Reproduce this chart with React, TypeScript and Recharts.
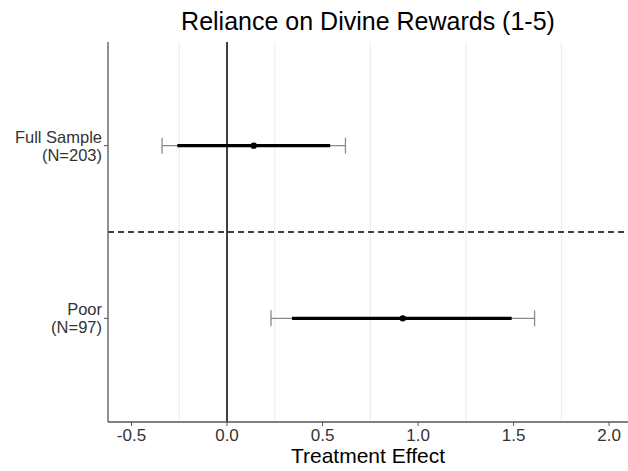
import {
    ScatterChart,
    Scatter,
    XAxis,
    YAxis,
    CartesianGrid,
    ReferenceLine,
    ErrorBar,
} from "recharts";

// rows, top to bottom
const groups = ["Full Sample", "Poor"];
const sampleSizes = [203, 97];
const rowPos = [2, 1];
const estimates = [0.14, 0.92];
const ci90Low = [-0.26, 0.34];
const ci90High = [0.54, 1.49];
const ci95Low = [-0.34, 0.23];
const ci95High = [0.62, 1.61];

const xTicks = [-0.5, 0, 0.5, 1, 1.5, 2];
const minorGrid = [-0.25, 0.25, 0.75, 1.25, 1.75];

const FONT = '"Liberation Sans", Arial, Helvetica, sans-serif';

const data = groups.map((g, i) => ({
    group: g,
    n: sampleSizes[i],
    y: rowPos[i],
    est: estimates[i],
    err90: [estimates[i] - ci90Low[i], ci90High[i] - estimates[i]],
    err95: [estimates[i] - ci95Low[i], ci95High[i] - estimates[i]],
}));

const rowLabel = (y: number) => data.find((d) => d.y === y);

function YTick(props: any) {
    const { x, y, payload } = props;
    const row = rowLabel(payload.value);
    if (!row) return null;
    return (
        <g>
            <text x={x} y={y - 3} textAnchor="end" fontSize={16.5} fill="#333" fontFamily={FONT}>
                {row.group}
            </text>
            <text x={x} y={y + 15} textAnchor="end" fontSize={16.5} fill="#333" fontFamily={FONT}>
                {`(N=${row.n})`}
            </text>
        </g>
    );
}

export default function App() {
    return (
        <div style={{ position: "absolute", left: 0, top: 0, width: 628, height: 471, background: "#fff" }}>
            <div
                style={{
                    position: "absolute",
                    left: 108,
                    width: 520,
                    top: 9,
                    textAlign: "center",
                    fontFamily: FONT,
                    fontSize: 25,
                    lineHeight: "25px",
                    color: "#000",
                }}
            >
                Reliance on Divine Rewards (1-5)
            </div>
            <ScatterChart
                width={628}
                height={471}
                margin={{ top: 42, right: 0, left: 0, bottom: 0 }}
            >
                <CartesianGrid
                    horizontal={false}
                    verticalValues={minorGrid}
                    stroke="#ebebeb"
                    strokeWidth={1}
                />
                <XAxis
                    xAxisId="top"
                    orientation="top"
                    type="number"
                    domain={[-0.623, 2.099]}
                    height={0}
                    tick={false}
                    tickLine={false}
                    axisLine={{ stroke: "#888", strokeWidth: 1.3 }}
                />
                <XAxis
                    dataKey="est"
                    type="number"
                    domain={[-0.623, 2.099]}
                    ticks={xTicks}
                    tickFormatter={(v: number) => v.toFixed(1)}
                    allowDataOverflow
                    height={49}
                    tickSize={4}
                    tickMargin={3}
                    tick={{ fontSize: 17, fill: "#333", fontFamily: FONT }}
                    axisLine={{ stroke: "#555", strokeWidth: 1.3 }}
                    tickLine={{ stroke: "#555" }}
                    label={{
                        value: "Treatment Effect",
                        position: "insideBottom",
                        offset: 8,
                        style: { fontSize: 21, fill: "#000", fontFamily: FONT },
                    }}
                />
                <YAxis
                    dataKey="y"
                    type="number"
                    domain={[0.4, 2.6]}
                    ticks={rowPos}
                    width={108}
                    tickSize={4}
                    tickMargin={2}
                    tick={<YTick />}
                    axisLine={{ stroke: "#555", strokeWidth: 1.3 }}
                    tickLine={{ stroke: "#555" }}
                />
                <ReferenceLine x={0} stroke="#000" strokeWidth={1.5} />
                <ReferenceLine y={1.5} stroke="#000" strokeWidth={1.3} strokeDasharray="6 4" />
                <Scatter
                    data={data}
                    fill="#000"
                    isAnimationActive={false}
                    shape={(p: any) => <circle cx={p.cx} cy={p.cy} r={3.2} fill="#000" />}
                >
                    <ErrorBar
                        dataKey="err95"
                        direction="x"
                        width={8}
                        stroke="#8a8a8a"
                        strokeWidth={1.3}
                        isAnimationActive={false}
                    />
                    <ErrorBar
                        dataKey="err90"
                        direction="x"
                        width={0}
                        stroke="#000"
                        strokeWidth={3.3}
                        isAnimationActive={false}
                    />
                </Scatter>
            </ScatterChart>
        </div>
    );
}
